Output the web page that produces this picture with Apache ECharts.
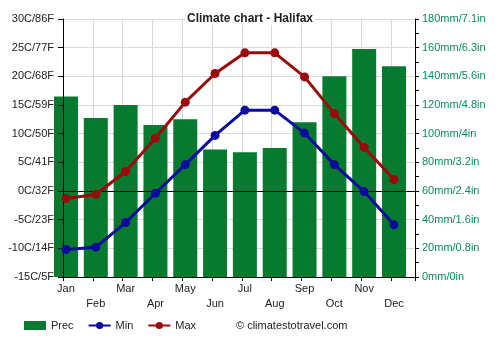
<!DOCTYPE html>
<html>
<head>
<meta charset="utf-8">
<script src="https://cdn.jsdelivr.net/npm/echarts@6/dist/echarts.min.js"></script>
<style>html,body{margin:0;padding:0;background:#fff}#c{width:500px;height:350px}</style>
</head>
<body>
<div id="c"></div>
<script>
const months = ['Jan','Feb','Mar','Apr','May','Jun','Jul','Aug','Sep','Oct','Nov','Dec'];
const prec = [126, 111, 120, 106, 110, 89, 87, 90, 108, 140, 159, 147];
const tMin = [-10.2, -9.8, -5.5, -0.4, 4.6, 9.7, 14.1, 14.1, 10.1, 4.6, -0.1, -5.9];
const tMax = [-1.3, -0.6, 3.4, 9.2, 15.5, 20.5, 24.1, 24.1, 19.9, 13.5, 7.6, 2.0];
const tempTickValues = [-15, -10, -5, 0, 5, 10, 15, 20, 25, 30];
const tempTickLabels = ['-15C/5F','-10C/14F','-5C/23F','0C/32F','5C/41F','10C/50F','15C/59F','20C/68F','25C/77F','30C/86F'];
const precTickValues = [0, 20, 40, 60, 80, 100, 120, 140, 160, 180];
const precTickLabels = ['0mm/0in','20mm/0.8in','40mm/1.6in','60mm/2.4in','80mm/3.2in','100mm/4in','120mm/4.8in','140mm/5.6in','160mm/6.3in','180mm/7.1in'];

const FONT = '"Liberation Sans", Arial, sans-serif';
const GREEN = '#087a30', BLUE = '#0a0a9e', RED = '#9b0a0a';
const chart = echarts.init(document.getElementById('c'), null, {renderer: 'canvas'});

const catW = 29.82;
const frameLeft = 63, frameTop = 19, frameW = 352, frameH = 258;
const GRIDC = '#d9d9d9';

chart.setOption({
  animation: false,
  backgroundColor: '#fff',
  textStyle: {fontFamily: FONT},
  title: {
    text: 'Climate chart - Halifax', left: 'center', top: 13,
    padding: [0, 2], backgroundColor: '#fff', z: 10,
    textStyle: {fontFamily: FONT, fontSize: 12, fontWeight: 'bold', color: '#222'}
  },
  legend: {
    left: 24, top: 320, padding: 0, itemWidth: 22, itemHeight: 9, itemGap: 14,
    textStyle: {fontFamily: FONT, fontSize: 11, color: '#222'},
    data: [{name: 'Prec', icon: 'rect'}, 'Min', 'Max']
  },
  graphic: [{
    type: 'text', left: 236, top: 320,
    style: {text: '© climatestotravel.com', font: '11px ' + FONT, fill: '#222'}
  }],
  grid: [
    {left: frameLeft - catW * 0.4, top: frameTop, width: catW * 12, height: frameH, containLabel: false},
    {left: frameLeft, top: frameTop, width: frameW, height: frameH, containLabel: false}
  ],
  xAxis: [
    {
      type: 'category', gridIndex: 0, data: months, boundaryGap: true,
      axisLine: {show: false}, axisTick: {show: false}, splitLine: {show: false},
      axisLabel: {
        interval: 0, margin: 4, fontSize: 11, lineHeight: 15, color: '#222', fontFamily: FONT,
        formatter: (v, i) => (i % 2 ? '\n' + v : v)
      }
    },
    {
      type: 'value', gridIndex: 1, position: 'bottom', min: 0, max: frameW / catW, interval: 1, z: 4,
      axisLine: {show: true, onZero: false, lineStyle: {color: '#000', width: 1}},
      axisTick: {show: true, length: 4, lineStyle: {color: '#000'}},
      axisLabel: {show: false},
      splitLine: {show: false}
    },
    {
      type: 'value', gridIndex: 1, position: 'bottom', min: 0, max: frameW / catW, interval: 1, z: 0,
      axisLine: {show: false, onZero: false}, axisTick: {show: false}, axisLabel: {show: false},
      splitLine: {show: true, lineStyle: {color: GRIDC, width: 1}}
    }
  ],
  yAxis: [
    {type: 'value', gridIndex: 0, min: -15, max: 30, interval: 5, show: false},
    {type: 'value', gridIndex: 0, min: 0, max: 180, interval: 20, show: false},
    {
      type: 'value', gridIndex: 1, position: 'left', min: -15, max: 30, interval: 5, z: 4,
      axisLine: {show: true, onZero: false, lineStyle: {color: '#000'}},
      axisTick: {show: true, length: 5, lineStyle: {color: '#000'}},
      axisLabel: {
        margin: 9, fontSize: 11, color: '#222', fontFamily: FONT,
        formatter: v => tempTickLabels[tempTickValues.indexOf(v)] || ''
      },
      splitLine: {show: false}
    },
    {
      type: 'value', gridIndex: 1, position: 'right', min: 0, max: 180, interval: 20, z: 4,
      axisLine: {show: true, onZero: false, lineStyle: {color: '#000'}},
      axisTick: {show: true, length: 4, lineStyle: {color: '#000'}},
      minorTick: {show: true, splitNumber: 2, length: 4, lineStyle: {color: '#000'}},
      axisLabel: {
        margin: 7, fontSize: 11, color: '#0a8a62', fontFamily: FONT,
        formatter: v => precTickLabels[precTickValues.indexOf(v)] || ''
      },
      splitLine: {show: false}
    },
    {
      type: 'value', gridIndex: 1, position: 'left', min: -15, max: 30, interval: 5, z: 0,
      axisLine: {show: false, onZero: false}, axisTick: {show: false}, axisLabel: {show: false},
      splitLine: {show: true, lineStyle: {color: GRIDC, width: 1}}
    }
  ],
  series: [
    {
      name: 'Prec', type: 'bar', xAxisIndex: 0, yAxisIndex: 1, data: prec,
      barWidth: 24, itemStyle: {color: GREEN}, z: 2
    },
    {
      name: 'zero', type: 'line', xAxisIndex: 1, yAxisIndex: 2, data: [], silent: true, z: 3,
      markLine: {
        silent: true, symbol: 'none', label: {show: false},
        lineStyle: {color: '#000', width: 1, type: 'solid'},
        data: [{yAxis: 0}]
      }
    },
    {
      name: 'Min', type: 'line', xAxisIndex: 0, yAxisIndex: 0, data: tMin,
      symbol: 'circle', symbolSize: 9, lineStyle: {color: BLUE, width: 3},
      itemStyle: {color: BLUE}, z: 5
    },
    {
      name: 'Max', type: 'line', xAxisIndex: 0, yAxisIndex: 0, data: tMax,
      symbol: 'circle', symbolSize: 9, lineStyle: {color: RED, width: 3},
      itemStyle: {color: RED}, z: 5
    }
  ]
});
</script>
</body>
</html>
